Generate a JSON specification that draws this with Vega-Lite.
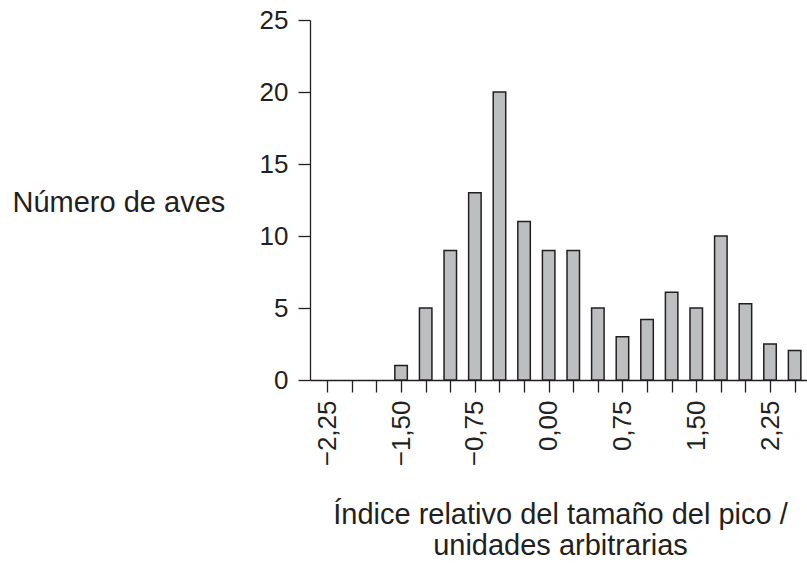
{
  "$schema": "https://vega.github.io/schema/vega-lite/v6.json",
  "width": 497,
  "height": 360,
  "autosize": {"type": "none"},
  "padding": {"left": 310, "top": 20, "right": 0, "bottom": 186},
  "background": "white",
  "config": {
    "view": {"stroke": null},
    "font": "Liberation Sans",
    "axis": {
      "domainColor": "#231f20",
      "domainWidth": 1.3,
      "tickColor": "#231f20",
      "tickWidth": 1.3,
      "tickSize": 12,
      "labelColor": "#231f20",
      "titleColor": "#231f20",
      "labelFont": "Liberation Sans",
      "titleFont": "Liberation Sans",
      "labelFontSize": 26,
      "titleFontSize": 29,
      "titleFontWeight": "normal",
      "grid": false
    }
  },
  "data": {
    "values": [
      {"indice": -1.50, "aves": 1},
      {"indice": -1.25, "aves": 5},
      {"indice": -1.00, "aves": 9},
      {"indice": -0.75, "aves": 13},
      {"indice": -0.50, "aves": 20},
      {"indice": -0.25, "aves": 11},
      {"indice": 0.00, "aves": 9},
      {"indice": 0.25, "aves": 9},
      {"indice": 0.50, "aves": 5},
      {"indice": 0.75, "aves": 3},
      {"indice": 1.00, "aves": 4.2},
      {"indice": 1.25, "aves": 6.1},
      {"indice": 1.50, "aves": 5},
      {"indice": 1.75, "aves": 10},
      {"indice": 2.00, "aves": 5.3},
      {"indice": 2.25, "aves": 2.5},
      {"indice": 2.50, "aves": 2.05}
    ]
  },
  "mark": {"type": "bar", "width": 12.5, "fill": "#bcbec0", "stroke": "#231f20", "strokeWidth": 1.5},
  "encoding": {
    "x": {
      "field": "indice",
      "type": "quantitative",
      "scale": {"domain": [-2.375, 2.575], "nice": false, "zero": false},
      "axis": {
        "values": [-2.25, -2.0, -1.75, -1.5, -1.25, -1.0, -0.75, -0.5, -0.25, 0, 0.25, 0.5, 0.75, 1.0, 1.25, 1.5, 1.75, 2.0, 2.25, 2.5],
        "labelExpr": "abs((datum.value + 2.25) / 0.75 - round((datum.value + 2.25) / 0.75)) < 0.001 ? replace(format(datum.value, '.2f'), '.', ',') : ''",
        "labelAngle": -90,
        "labelAlign": "right",
        "labelBaseline": "middle",
        "labelPadding": 8,
        "labelOverlap": false,
        "labelBound": false,
        "labelFlush": false,
        "title": ["Índice relativo del tamaño del pico /", "unidades arbitrarias"],
        "titleAlign": "center",
        "titleBaseline": "alphabetic",
        "titleX": 250,
        "titleY": 143,
        "titleLineHeight": 31
      }
    },
    "y": {
      "field": "aves",
      "type": "quantitative",
      "scale": {"domain": [0, 25], "nice": false},
      "axis": {
        "values": [0, 5, 10, 15, 20, 25],
        "labelPadding": 10,
        "labelBound": false,
        "labelFlush": false,
        "labelOverlap": false,
        "title": "Número de aves",
        "titleAngle": 0,
        "titleAlign": "left",
        "titleBaseline": "middle",
        "titleX": -298,
        "titleY": 182
      }
    }
  }
}
